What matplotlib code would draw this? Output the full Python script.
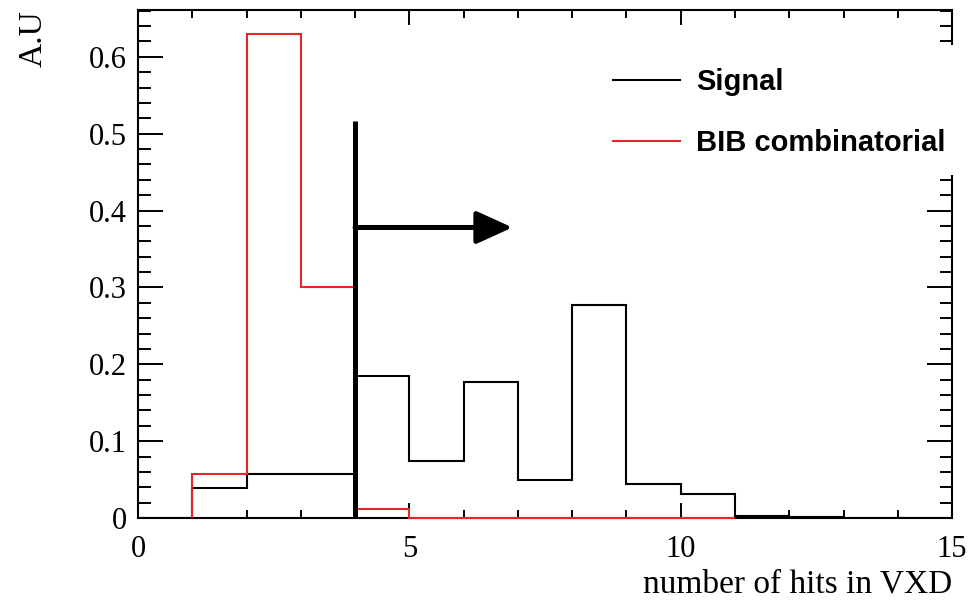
import numpy as np
import matplotlib.pyplot as plt
from matplotlib.ticker import MultipleLocator
from matplotlib.patches import Rectangle

# bin edges (number of hits)
edges = np.arange(0, 16, 1)

# normalised histograms
signal = [0.0, 0.039, 0.057, 0.057, 0.185, 0.074, 0.177, 0.049,
          0.277, 0.044, 0.031, 0.003, 0.001, 0.0, 0.0]
bib_edges = np.arange(1, 12, 1)
bib = [0.057, 0.630, 0.301, 0.012, 0.0, 0.0, 0.0, 0.0, 0.0, 0.0]

# selection cut
cut_x = 4
cut_top = 0.516
arrow_y = 0.378
arrow_end = 6.9

serif = 'Liberation Serif'
sans = 'Liberation Sans'

fig = plt.figure(figsize=(9.69, 6.09), dpi=100)
ax = fig.add_axes([0.1424, 0.1494, 0.8401, 0.8342])

ax.stairs(signal, edges, color='black', lw=1.5, label='Signal', zorder=3)
ax.stairs(bib, bib_edges, color='#e8262a', lw=1.5, label='BIB combinatorial',
          zorder=4, clip_on=False)

# cut line and arrow
ax.plot([cut_x, cut_x], [0, cut_top], color='black', lw=3.6, zorder=5,
        solid_capstyle='butt')
ax.annotate('', xy=(arrow_end, arrow_y), xytext=(cut_x, arrow_y),
            arrowprops=dict(arrowstyle='-|>,head_length=1.1,head_width=0.5',
                            lw=3.6, color='black', mutation_scale=20,
                            shrinkA=0, shrinkB=0), zorder=5)

ax.set_xlim(0, 15)
ax.set_ylim(0, 0.661)

ax.xaxis.set_major_locator(MultipleLocator(5))
ax.xaxis.set_minor_locator(MultipleLocator(1))
ax.yaxis.set_major_locator(MultipleLocator(0.1))
ax.yaxis.set_minor_locator(MultipleLocator(0.02))
ax.yaxis.set_major_formatter(plt.FuncFormatter(lambda v, p: '0' if v == 0 else f'{v:.1f}'))

ax.tick_params(axis='both', which='both', direction='in', top=True, right=True,
               width=1.4, colors='black')
ax.tick_params(axis='x', which='major', length=11, pad=12)
ax.tick_params(axis='x', which='minor', length=6)
ax.tick_params(axis='y', which='major', length=18, pad=8)
ax.tick_params(axis='y', which='minor', length=9)
for lab in ax.get_xticklabels() + ax.get_yticklabels():
    lab.set_family(serif)
    lab.set_fontsize(22)

for s in ax.spines.values():
    s.set_linewidth(1.5)

ax.set_xlabel('number of hits in VXD', family=serif, fontsize=24)
ax.xaxis.set_label_coords(1.0, -0.10)
ax.xaxis.label.set_horizontalalignment('right')
ax.set_ylabel('A.U', family=serif, fontsize=24)
ax.yaxis.set_label_coords(-0.147, 1.0)
ax.yaxis.label.set_verticalalignment('top')
ax.yaxis.label.set_horizontalalignment('right')

# white legend pad covers the frame behind it, as in the original
ax.add_patch(Rectangle((0.568, 0.675), 0.445, 0.256, transform=ax.transAxes,
                       facecolor='white', edgecolor='none', zorder=6,
                       clip_on=False))
leg = ax.legend(loc='upper left', bbox_to_anchor=(0.5835, 0.886), frameon=False,
                prop={'family': sans, 'weight': 'bold', 'size': 21},
                handlelength=2.3, labelspacing=1.15, handletextpad=0.55,
                borderaxespad=0, borderpad=0)
leg.set_zorder(7)

fig.savefig('out.png', dpi=100)
